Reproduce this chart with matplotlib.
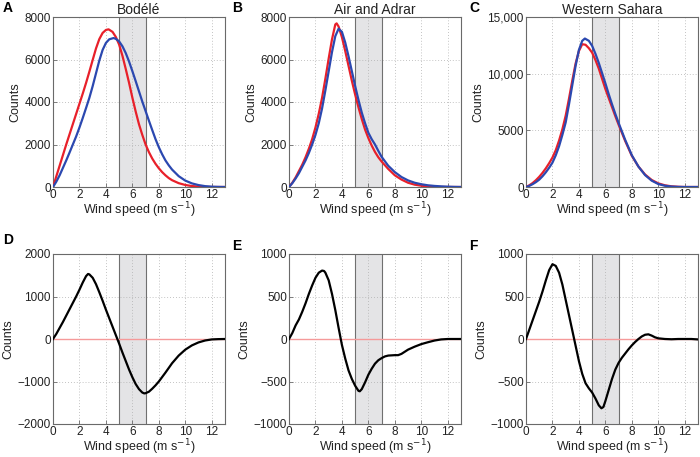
import matplotlib
matplotlib.use("Agg")
import matplotlib.pyplot as plt
from matplotlib.ticker import FuncFormatter

plt.rcParams['font.family'] = ['Liberation Sans', 'DejaVu Sans']

# ---------------- data ----------------
# Panel A (Bodele)
a_red_x = [0, .25, .5, .75, 1, 1.25, 1.5, 1.75, 2, 2.25, 2.5, 2.75, 3, 3.25, 3.5, 3.75, 4, 4.2, 4.5, 4.75, 5, 5.25, 5.5, 5.75, 6, 6.25, 6.5, 6.75, 7, 7.25, 7.5, 7.75, 8, 8.25, 8.5, 8.75, 9, 9.5, 10, 10.5, 11, 11.5, 12, 13]
a_red_y = [0, 500, 1000, 1500, 2000, 2480, 2960, 3440, 3920, 4400, 4900, 5430, 5980, 6520, 6960, 7250, 7390, 7420, 7300, 7060, 6700, 6170, 5550, 4900, 4200, 3550, 2950, 2450, 2000, 1640, 1340, 1090, 880, 700, 550, 420, 320, 180, 95, 45, 18, 5, 0, 0]
a_blue_x = [0, .25, .5, .75, 1, 1.25, 1.5, 1.75, 2, 2.25, 2.5, 2.75, 3, 3.25, 3.5, 3.75, 4, 4.25, 4.58, 4.75, 5, 5.25, 5.5, 5.75, 6, 6.25, 6.5, 6.75, 7, 7.25, 7.5, 7.75, 8, 8.25, 8.5, 8.75, 9, 9.5, 10, 10.5, 11, 11.5, 12, 12.5, 13]
a_blue_y = [0, 250, 550, 900, 1250, 1620, 2000, 2380, 2800, 3250, 3720, 4200, 4750, 5350, 5950, 6450, 6780, 6950, 7010, 6970, 6850, 6620, 6300, 5900, 5450, 4980, 4500, 4020, 3570, 3120, 2680, 2250, 1870, 1540, 1250, 1020, 820, 510, 300, 170, 90, 40, 15, 5, 0]

# Panel B (Air and Adrar)
b_red_x = [0, .25, .5, .75, 1, 1.25, 1.5, 1.75, 2, 2.25, 2.5, 2.75, 3, 3.25, 3.5, 3.6, 3.75, 4, 4.25, 4.5, 4.75, 5, 5.25, 5.5, 5.75, 6, 6.25, 6.5, 6.75, 7, 7.5, 8, 8.5, 9, 9.5, 10, 10.5, 11, 11.5, 12, 13]
b_red_y = [0, 200, 450, 750, 1050, 1400, 1800, 2250, 2800, 3450, 4200, 5100, 6050, 6950, 7650, 7700, 7550, 7050, 6400, 5700, 5000, 4350, 3750, 3200, 2700, 2300, 1950, 1650, 1400, 1200, 850, 550, 350, 200, 110, 60, 30, 10, 0, 0, 0]
b_blue_x = [0, .25, .5, .75, 1, 1.25, 1.5, 1.75, 2, 2.25, 2.5, 2.75, 3, 3.25, 3.5, 3.75, 4, 4.25, 4.5, 4.75, 5, 5.25, 5.5, 5.75, 6, 6.25, 6.5, 6.75, 7, 7.5, 8, 8.5, 9, 9.5, 10, 10.5, 11, 11.5, 12, 12.5, 13]
b_blue_y = [0, 180, 400, 650, 950, 1250, 1600, 2000, 2450, 3000, 3700, 4550, 5450, 6350, 7100, 7450, 7300, 6800, 6150, 5450, 4750, 4100, 3500, 3000, 2550, 2250, 2000, 1700, 1420, 1000, 700, 470, 310, 200, 130, 80, 50, 30, 15, 5, 0]

# Panel C (Western Sahara)
c_red_x = [0, .25, .5, .75, 1, 1.25, 1.5, 1.75, 2, 2.25, 2.5, 2.75, 3, 3.25, 3.5, 3.75, 4, 4.25, 4.5, 4.75, 5, 5.25, 5.5, 5.75, 6, 6.25, 6.5, 6.75, 7, 7.5, 8, 8.5, 9, 9.5, 10, 10.5, 11, 11.5, 12, 13]
c_red_y = [0, 150, 350, 600, 900, 1250, 1650, 2100, 2600, 3250, 4100, 5100, 6300, 7800, 9400, 10900, 12000, 12600, 12550, 12250, 11850, 11200, 10450, 9550, 8650, 7850, 7050, 6250, 5500, 4050, 2750, 1800, 1100, 620, 320, 150, 60, 20, 0, 0]
c_blue_x = [0, .25, .5, .75, 1, 1.25, 1.5, 1.75, 2, 2.25, 2.5, 2.75, 3, 3.25, 3.5, 3.75, 4, 4.25, 4.45, 4.75, 5, 5.25, 5.5, 5.75, 6, 6.25, 6.5, 6.75, 7, 7.5, 8, 8.5, 9, 9.5, 10, 10.5, 11, 11.5, 12, 13]
c_blue_y = [0, 100, 250, 430, 650, 950, 1300, 1700, 2150, 2800, 3600, 4600, 5700, 7300, 9000, 10700, 12100, 12900, 13100, 12900, 12450, 11750, 10950, 10050, 9150, 8200, 7300, 6450, 5650, 4150, 2800, 1800, 1050, 560, 260, 110, 40, 10, 0, 0]

# Differences (D, E, F)
d_x = [0, .25, .5, .75, 1, 1.25, 1.5, 1.75, 2, 2.25, 2.5, 2.65, 2.75, 3, 3.25, 3.5, 3.75, 4, 4.25, 4.5, 4.75, 5, 5.25, 5.5, 5.75, 6, 6.25, 6.5, 6.75, 6.9, 7, 7.25, 7.5, 7.75, 8, 8.5, 9, 9.5, 10, 10.5, 11, 11.5, 12, 12.5, 13]
d_y = [0, 120, 260, 400, 550, 700, 850, 1000, 1160, 1330, 1480, 1530, 1520, 1440, 1290, 1100, 900, 690, 490, 290, 90, -110, -320, -520, -720, -900, -1060, -1180, -1260, -1280, -1275, -1240, -1170, -1090, -1000, -790, -570, -390, -250, -150, -80, -35, -10, -3, 0]
e_x = [0, .25, .5, .75, 1, 1.25, 1.5, 1.75, 2, 2.25, 2.5, 2.65, 2.75, 3, 3.25, 3.5, 3.75, 4, 4.25, 4.5, 4.75, 5, 5.25, 5.35, 5.5, 5.75, 6, 6.25, 6.5, 6.75, 7, 7.25, 7.5, 8, 8.25, 8.5, 8.75, 9, 9.5, 10, 10.5, 11, 11.5, 12, 12.5, 13]
e_y = [0, 70, 160, 230, 320, 420, 530, 630, 720, 780, 805, 800, 780, 690, 530, 340, 130, -70, -230, -370, -470, -550, -610, -615, -590, -510, -420, -350, -290, -250, -225, -205, -195, -190, -190, -175, -150, -125, -90, -60, -38, -18, -5, 0, 0, 0]
f_x = [0, .25, .5, .75, 1, 1.25, 1.5, 1.75, 2, 2.25, 2.5, 2.75, 3, 3.25, 3.5, 3.75, 4, 4.25, 4.5, 4.75, 5, 5.25, 5.5, 5.7, 5.85, 6, 6.25, 6.5, 6.75, 7, 7.25, 7.5, 7.75, 8, 8.25, 8.5, 8.75, 9, 9.25, 9.5, 9.75, 10, 10.5, 11, 11.5, 12, 12.5, 13]
f_y = [0, 110, 220, 330, 440, 560, 690, 810, 880, 860, 780, 640, 460, 280, 100, -80, -260, -410, -520, -580, -630, -700, -780, -815, -800, -730, -600, -470, -360, -280, -220, -170, -120, -75, -35, 0, 30, 50, 55, 40, 20, 8, 0, -3, 0, 0, 0, -5]

titles = ["Bodélé", "Air and Adrar", "Western Sahara"]
letters_top = ["A", "B", "C"]
letters_bot = ["D", "E", "F"]
top_ylims = [(0, 8000), (0, 8000), (0, 15000)]
top_yticks = [[0, 2000, 4000, 6000, 8000], [0, 2000, 4000, 6000, 8000], [0, 5000, 10000, 15000]]
bot_ylims = [(-2000, 2000), (-1000, 1000), (-1000, 1000)]
bot_yticks = [[-2000, -1000, 0, 1000, 2000], [-1000, -500, 0, 500, 1000], [-1000, -500, 0, 500, 1000]]
xticks = [0, 2, 4, 6, 8, 10, 12]
band = (5, 7)

RED = "#e8202a"
BLUE = "#2b48b0"
SPINE = "#6a6a6a"

# ---------------- figure ----------------
W, H = 700, 457
fig = plt.figure(figsize=(7, 4.57), dpi=100)

lefts = [53, 289, 526]
aw = 172
ah = 170
top_bottom_px = 187
bot_bottom_px = 424


def fmt(v, pos):
    v = int(round(v))
    if abs(v) >= 10000:
        return f"{v:,}"
    return str(v).replace("-", "\u2212")


def style(ax, ylim, yticks):
    ax.set_xlim(0, 13)
    ax.set_ylim(*ylim)
    ax.set_xticks(xticks)
    ax.set_yticks(yticks)
    ax.yaxis.set_major_formatter(FuncFormatter(fmt))
    ax.grid(True, linestyle=(0, (1, 2.5)), color="#b0b0b0", linewidth=0.6)
    ax.set_axisbelow(True)
    for s in ax.spines.values():
        s.set_color(SPINE)
        s.set_linewidth(0.8)
    ax.tick_params(direction="in", length=3, width=0.6, color=SPINE,
                   labelsize=8.5, pad=1.5, labelcolor="#222222")
    ax.axvspan(band[0], band[1], color="#e4e4e6", zorder=0.5, lw=0)
    ax.axvline(band[0], color="#707070", lw=0.8, zorder=1)
    ax.axvline(band[1], color="#707070", lw=0.8, zorder=1)
    ax.set_xlabel("Wind speed (m s$^{-1}$)", fontsize=9, labelpad=-0.5, color="#222222")
    ax.set_ylabel("Counts", fontsize=9, labelpad=2, color="#222222")


tops = [(a_red_x, a_red_y, a_blue_x, a_blue_y),
        (b_red_x, b_red_y, b_blue_x, b_blue_y),
        (c_red_x, c_red_y, c_blue_x, c_blue_y)]
bots = [(d_x, d_y), (e_x, e_y), (f_x, f_y)]

for i in range(3):
    ax = fig.add_axes([lefts[i] / W, 1 - top_bottom_px / H, aw / W, ah / H])
    style(ax, top_ylims[i], top_yticks[i])
    rx, ry, bx, by = tops[i]
    ax.plot(rx, ry, color=RED, lw=1.6, zorder=3, solid_joinstyle="round")
    ax.plot(bx, by, color=BLUE, lw=1.6, zorder=3, solid_joinstyle="round")
    ax.set_title(titles[i], fontsize=10, pad=2, color="#222222")
    ax.text(-0.29 if i == 0 else -0.33, 1.055, letters_top[i], transform=ax.transAxes,
            fontsize=10, fontweight="bold", ha="left", va="center")

    ax2 = fig.add_axes([lefts[i] / W, 1 - bot_bottom_px / H, aw / W, ah / H])
    style(ax2, bot_ylims[i], bot_yticks[i])
    ax2.axhline(0, color="#f59a9a", lw=1.0, zorder=2)
    x, y = bots[i]
    ax2.plot(x, y, color="black", lw=1.6, zorder=3, solid_joinstyle="round")
    ax2.text(-0.29 if i == 0 else -0.33, 1.08 if i == 0 else 1.05, letters_bot[i],
             transform=ax2.transAxes, fontsize=10, fontweight="bold", ha="left", va="center")

fig.savefig("out.png", dpi=100)
